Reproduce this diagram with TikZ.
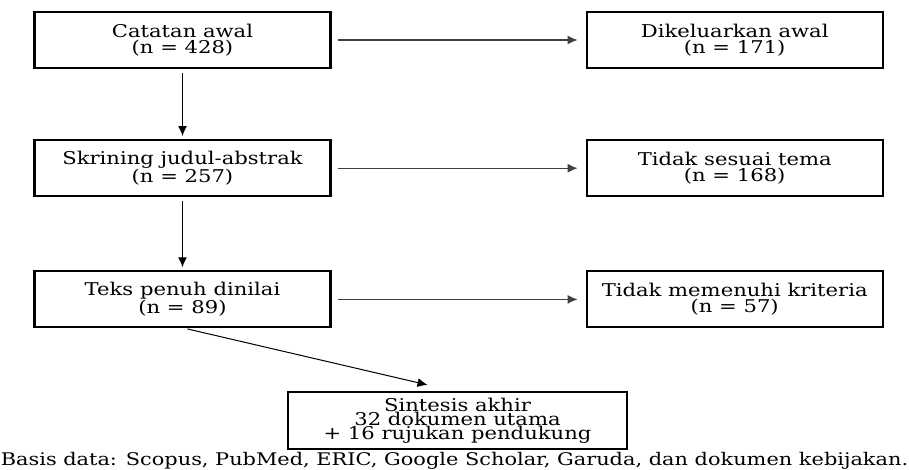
\documentclass[tikz,border=0pt]{standalone}
\usepackage{fontspec}
\setmainfont{DejaVu Serif}[FakeStretch=1.2]
\usepackage{tikz}
\usetikzlibrary{arrows.meta}
\usetikzlibrary{positioning}

\begin{document}
\begin{tikzpicture}[x=1pt, y=1pt,
		box/.style={draw, line width=2.2pt, minimum width=296pt, minimum height=56pt,
			inner sep=0pt, align=center, font=\fontsize{17.6}{15.5}\selectfont},
		arr/.style={-{Latex[length=10pt, width=9pt]}, line width=1.4pt}]
	\useasboundingbox (0,0) rectangle (909,470);
	
	\node[box] (catatan) at (182.5, 430) {Catatan awal\\(n = 428)};
	\node[box, right=254pt of catatan] (keluar) {Dikeluarkan awal\\(n = 171)};
	
	\node[box, below=70pt of catatan] (skrining) {Skrining judul-abstrak\\(n = 257)};
	\node[box, right=254pt of skrining] (tema) {Tidak sesuai tema\\(n = 168)};
	
	\node[box, below=73pt of skrining] (teks) {Teks penuh dinilai\\(n = 89)};
	\node[box, right=254pt of teks] (kriteria) {Tidak memenuhi kriteria\\(n = 57)};
	
	\node[box, minimum width=339pt, minimum height=57pt,
		font=\fontsize{17.6}{14}\selectfont] (sintesis) at (457.5, 49.5)
		{Sintesis akhir\\32 dokumen utama\\+ 16 rujukan pendukung};
	
	\node[anchor=base, inner sep=0pt, font=\fontsize{17.4}{17.4}\selectfont] (basis) at (454.5, 4)
		{Basis data: Scopus, PubMed, ERIC, Google Scholar, Garuda, dan dokumen kebijakan.};
	
	% alur utama
	\draw[arr, shorten <=4pt, shorten >=3pt] (catatan) -- (skrining);
	\draw[arr, shorten <=4pt, shorten >=3pt] (skrining) -- (teks);
	\draw[arr, line width=1pt, shorten <=2pt] ([xshift=3pt]teks.south) -- ([xshift=-30pt, yshift=6pt]sintesis.north);
	
	% yang dikeluarkan
	\draw[arr, draw=black!75, line width=1.3pt, shorten <=6pt, shorten >=8pt] (catatan) -- (keluar);
	\draw[arr, draw=black!75, line width=1.3pt, shorten <=6pt, shorten >=8pt] (skrining) -- (tema);
	\draw[arr, draw=black!75, line width=1.3pt, shorten <=6pt, shorten >=8pt] (teks) -- (kriteria);
\end{tikzpicture}
\end{document}
